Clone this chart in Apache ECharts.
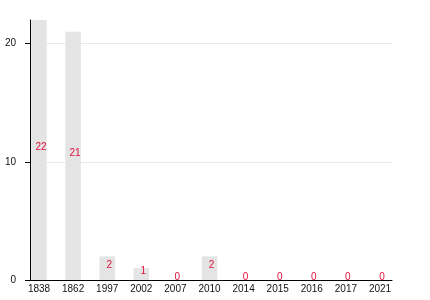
<!DOCTYPE html>
<html>
<head>
<meta charset="utf-8">
<style>
html,body{margin:0;padding:0;background:#fff;}
#chart{width:430px;height:300px;}
</style>
<script src="https://cdn.jsdelivr.net/npm/echarts@6/dist/echarts.min.js"></script>
</head>
<body>
<div id="chart"></div>
<script>
const categories = ['1838','1862','1997','2002','2007','2010','2014','2015','2016','2017','2021'];
const values = [22, 21, 2, 1, 0, 2, 0, 0, 0, 0, 0];
const yTicks = [0, 10, 20];
const yMax = 22;

const chart = echarts.init(document.getElementById('chart'), null, {renderer: 'canvas'});
const font = 'Liberation Sans, Arial, sans-serif';
chart.setOption({
  animation: false,
  backgroundColor: '#fff',
  grid: [
    {left: 30, right: 38, top: 20, bottom: 20, containLabel: false},
    {left: 39, right: 50, top: 20, bottom: 20, containLabel: false}
  ],
  xAxis: [
    {gridIndex: 0, type: 'value', min: 0, max: 1,
     axisLine: {show: true, lineStyle: {color: '#000', width: 1}},
     axisTick: {show: false}, axisLabel: {show: false}, splitLine: {show: false}},
    {gridIndex: 1, type: 'category', data: categories, boundaryGap: false,
     axisLine: {show: false}, axisTick: {show: false}, splitLine: {show: false},
     axisLabel: {color: '#111', fontSize: 10, fontFamily: font, margin: 4, interval: 0}}
  ],
  yAxis: [
    {gridIndex: 0, type: 'value', min: 0, max: yMax, interval: 10,
     axisLine: {show: true, lineStyle: {color: '#000', width: 1}},
     axisTick: {show: true, inside: false, length: 5, lineStyle: {color: '#000'}, customValues: yTicks},
     axisLabel: {color: '#111', fontSize: 10, fontFamily: font, margin: 14, customValues: yTicks},
     splitLine: {show: true, lineStyle: {color: '#e8e8e8', width: 1}}},
    {gridIndex: 1, type: 'value', min: 0, max: yMax, show: false}
  ],
  series: [{
    type: 'bar',
    xAxisIndex: 1, yAxisIndex: 1,
    data: values,
    barWidth: 15.5,
    clip: false,
    itemStyle: {color: '#e4e4e4'},
    label: {
      show: true, position: 'inside', offset: [2, -3],
      color: '#e0103a', fontSize: 10, fontFamily: font,
      textBorderWidth: 0, textBorderColor: 'transparent'
    }
  }]
});
</script>
</body>
</html>
